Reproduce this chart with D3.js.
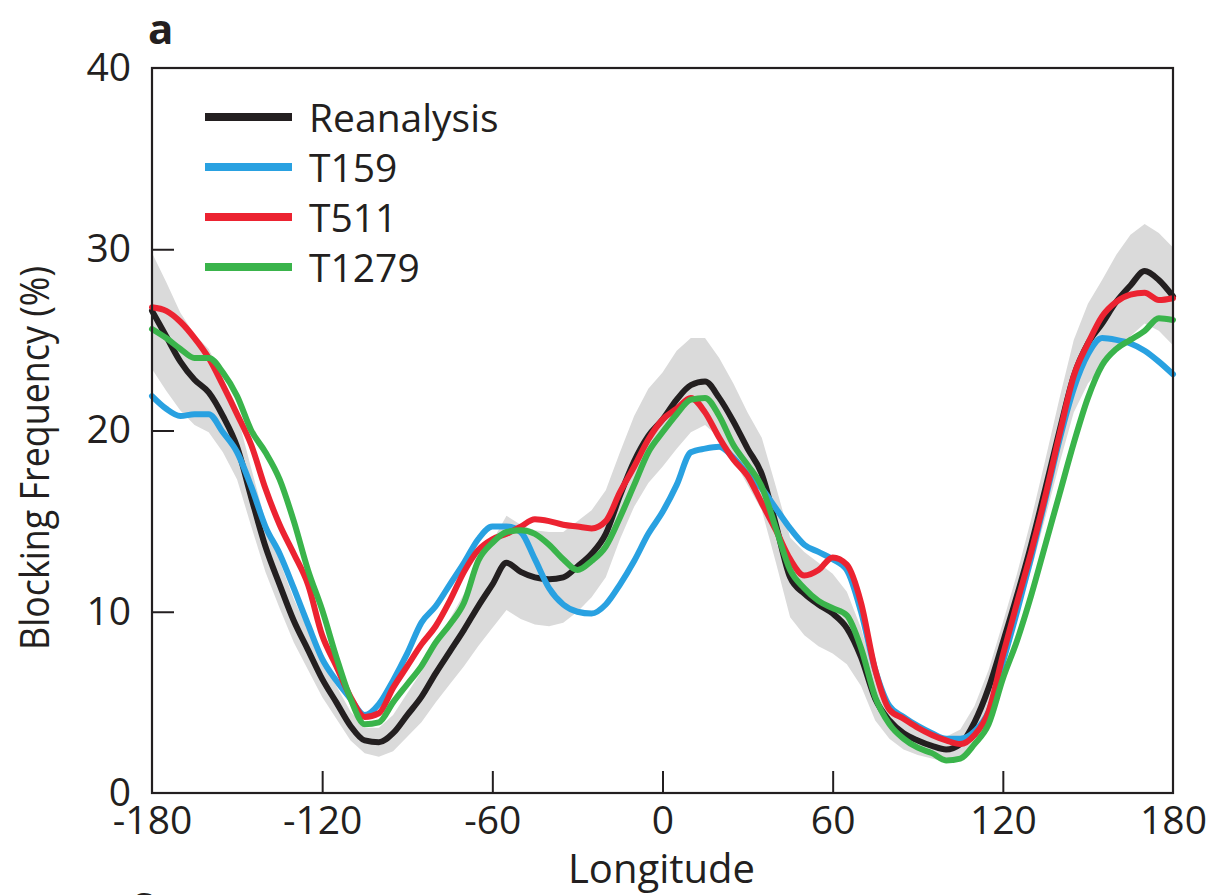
<!DOCTYPE html>
<html>
<head>
<meta charset="utf-8">
<script src="https://cdn.jsdelivr.net/npm/d3@7"></script>
<style>
  html, body { margin: 0; padding: 0; background: #fff; }
  svg { display: block; }
  text { font-family: "Open Sans", "DejaVu Sans", sans-serif; fill: #231f20; }
</style>
</head>
<body>
<svg id="chart" width="1218" height="895"></svg>
<script>
// ---- data ----
const longitudes = [-180,-175,-170,-165,-160,-155,-150,-145,-140,-135,-130,-125,-120,-115,-110,-105,-100,-95,-90,-85,-80,-75,-70,-65,-60,-55,-50,-45,-40,-35,-30,-25,-20,-15,-10,-5,0,5,10,15,20,25,30,35,40,45,50,55,60,65,70,75,80,85,90,95,100,105,110,115,120,125,130,135,140,145,150,155,160,165,170,175,180];

const reanalysis = [26.6,25.2,23.8,22.8,22.1,20.8,19.1,16.3,13.6,11.5,9.5,7.9,6.3,5.0,3.7,2.9,2.8,3.3,4.3,5.3,6.6,7.8,9.0,10.3,11.5,12.7,12.2,11.9,11.8,11.9,12.5,13.2,14.3,16.4,18.3,19.7,20.6,21.7,22.5,22.7,21.8,20.5,19.0,17.6,14.8,11.9,11.0,10.4,9.9,9.1,7.5,5.2,4.0,3.3,2.9,2.6,2.4,2.7,3.9,5.8,8.3,10.9,13.7,16.8,20.0,23.0,24.8,25.9,27.1,28.0,28.8,28.3,27.4];

const t159 = [21.9,21.2,20.8,20.9,20.9,19.9,18.8,16.9,14.7,13.2,11.3,9.3,7.4,6.2,5.2,4.3,4.9,6.2,7.7,9.4,10.3,11.5,12.7,14.0,14.7,14.7,14.4,12.9,11.3,10.4,10.0,9.9,10.4,11.5,12.8,14.3,15.5,17.0,18.8,19.0,19.1,18.5,17.6,16.8,15.7,14.6,13.7,13.3,12.9,12.3,10.0,6.8,4.8,4.2,3.7,3.3,3.0,3.0,3.4,4.5,7.2,10.0,13.0,16.2,19.5,22.3,24.2,25.1,25.0,24.8,24.4,23.8,23.1];

const t511 = [26.8,26.6,26.0,25.1,24.0,22.5,20.9,19.2,16.8,14.8,13.2,11.5,8.7,7.0,5.3,4.2,4.4,5.8,7.0,8.2,9.2,10.6,12.2,13.4,14.0,14.3,14.7,15.1,15.0,14.8,14.7,14.6,15.0,16.6,18.0,19.5,20.6,21.2,21.8,21.0,19.6,18.4,17.5,16.0,14.5,12.9,12.0,12.3,13.0,12.6,10.5,6.8,4.6,4.1,3.6,3.2,2.9,2.7,3.2,4.5,7.6,10.5,13.3,16.4,19.8,23.0,24.8,26.3,27.1,27.5,27.6,27.2,27.3];

const t1279 = [25.6,25.1,24.5,24.0,24.0,23.2,21.9,20.0,18.8,17.3,15.0,12.3,10.1,7.5,5.2,3.8,3.9,5.0,6.0,7.0,8.3,9.3,10.5,12.8,13.8,14.4,14.5,14.3,13.7,12.9,12.3,12.8,13.6,15.2,17.0,18.8,19.9,20.9,21.7,21.8,20.8,19.2,18.1,16.9,14.6,12.3,11.3,10.6,10.2,9.8,8.0,5.3,3.8,3.0,2.5,2.2,1.8,1.9,2.7,3.8,6.3,8.4,10.9,13.7,16.5,19.3,21.8,23.6,24.5,25.0,25.5,26.2,26.1];

// grey spread band around the reanalysis
const bandUpper = [29.8,28.2,26.5,25.3,24.5,22.9,20.9,17.9,15.0,12.8,10.7,9.0,7.3,5.9,4.5,3.6,3.6,4.3,5.5,6.7,8.2,9.6,11.0,12.5,13.9,15.3,14.8,14.5,14.4,14.4,15.0,15.6,16.7,18.8,20.8,22.3,23.2,24.4,25.1,25.1,24.0,22.6,21.0,19.6,16.9,14.1,13.3,12.7,12.1,11.1,9.1,6.4,5.0,4.2,3.7,3.3,3.1,3.5,4.8,6.8,9.4,12.1,15.1,18.4,21.8,25.0,27.0,28.3,29.7,30.8,31.4,30.9,30.1];
const bandLower = [23.4,22.2,21.1,20.3,19.9,18.8,17.3,14.7,12.2,10.2,8.3,6.8,5.3,4.1,2.9,2.2,2.0,2.3,3.1,3.9,5.0,6.0,7.0,8.1,9.1,10.1,9.6,9.3,9.2,9.4,10.0,10.8,11.9,14.0,15.8,17.1,18.0,19.0,19.9,20.3,19.6,18.4,17.0,15.6,12.7,9.7,8.7,8.1,7.7,7.1,5.9,4.0,3.0,2.4,2.1,1.9,1.7,1.9,3.0,4.8,7.2,9.7,12.3,15.2,18.2,21.0,22.6,23.5,24.5,25.2,25.9,25.5,24.7];

const xTicks = [-180,-120,-60,0,60,120,180];
const yTicks = [0,10,20,30,40];

const seriesNames = ["Reanalysis","T159","T511","T1279"];
const seriesColors = ["#231f20","#29a1e1","#ec2331","#3ab44b"];
const seriesValues = [reanalysis, t159, t511, t1279];

// ---- drawing ----
const svg = d3.select("#chart");
const plotL = 152, plotR = 1173, plotT = 68, plotB = 793;

const x = d3.scaleLinear().domain([-180,180]).range([plotL,plotR]);
const y = d3.scaleLinear().domain([0,40]).range([plotB,plotT]);

// band
const bandData = longitudes.map((lon,i) => ({lon, lo: bandLower[i], hi: bandUpper[i]}));
svg.append("path")
  .datum(bandData)
  .attr("fill", "#dadada")
  .attr("d", d3.area().x(d => x(d.lon)).y0(d => y(d.lo)).y1(d => y(d.hi)));

// lines
const line = d3.line().x(d => x(d.lon)).y(d => y(d.v)).curve(d3.curveMonotoneX);
seriesValues.forEach((vals, k) => {
  svg.append("path")
    .datum(longitudes.map((lon,i) => ({lon, v: vals[i]})))
    .attr("fill","none")
    .attr("stroke", seriesColors[k])
    .attr("stroke-width", 6)
    .attr("stroke-linejoin","round")
    .attr("stroke-linecap","round")
    .attr("d", line);
});

// axes with inward ticks
const fmt = d => String(d); // plain hyphen-minus like the reference
const xAxis = svg.append("g")
  .attr("transform", `translate(0,${plotB})`)
  .call(d3.axisBottom(x).tickValues(xTicks).tickSize(-22).tickPadding(13).tickFormat(fmt));
const yAxis = svg.append("g")
  .attr("transform", `translate(${plotL},0)`)
  .call(d3.axisLeft(y).tickValues(yTicks).tickSize(-22).tickPadding(21).tickFormat(fmt));

[xAxis, yAxis].forEach(g => {
  g.select(".domain").remove();
  g.selectAll(".tick line").attr("stroke","#231f20").attr("stroke-width",2);
  g.selectAll(".tick text").attr("font-size", 39).attr("font-family", '"Open Sans", sans-serif').attr("fill","#231f20");
});
xAxis.selectAll(".tick").filter(d => d === -180 || d === 180).select("line").remove();
yAxis.selectAll(".tick").filter(d => d === 0 || d === 40).select("line").remove();
xAxis.selectAll(".tick text").attr("dy", "0.72em");

// frame
svg.append("rect")
  .attr("x", plotL).attr("y", plotT)
  .attr("width", plotR-plotL).attr("height", plotB-plotT)
  .attr("fill","none").attr("stroke","#231f20").attr("stroke-width",2.2);

// axis titles
svg.append("text")
  .attr("x", (plotL+plotR)/2 - 1).attr("y", 883)
  .attr("text-anchor","middle").attr("font-size", 40)
  .text("Longitude");
svg.append("text")
  .attr("transform", "translate(49,458) rotate(-90)")
  .attr("text-anchor","middle").attr("font-size", 40)
  .attr("textLength", 384).attr("lengthAdjust","spacingAndGlyphs")
  .text("Blocking Frequency (%)");

// panel letters
svg.append("text").attr("x", 148).attr("y", 44).attr("font-size", 42).attr("font-weight", "bold").text("a");
svg.append("text").attr("x", 131).attr("y", 916).attr("font-size", 42).attr("font-weight", "bold").text("c");

// legend
const legend = svg.append("g");
seriesNames.forEach((name, k) => {
  const ly = 117 + k*50;
  legend.append("line")
    .attr("x1", 205).attr("x2", 292).attr("y1", ly).attr("y2", ly)
    .attr("stroke", seriesColors[k]).attr("stroke-width", 8);
  legend.append("text")
    .attr("x", 309).attr("y", ly + 15)
    .attr("font-size", 39)
    .text(name);
});
</script>
</body>
</html>
